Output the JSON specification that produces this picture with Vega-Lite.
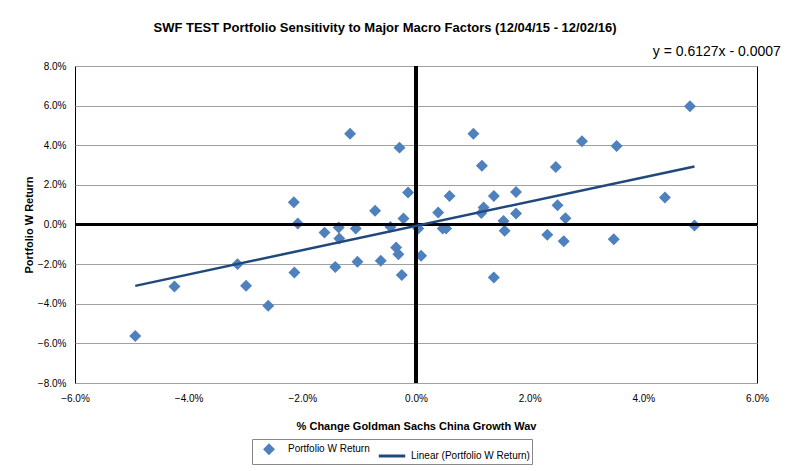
{
  "$schema": "https://vega.github.io/schema/vega-lite/v6.json",
  "width": 682,
  "height": 317,
  "autosize": {"type": "none"},
  "padding": {"left": 75, "top": 66, "right": 36, "bottom": 88},
  "background": "white",
  "config": {
    "font": "Liberation Sans",
    "view": {"stroke": "#000000", "strokeWidth": 1},
    "axis": {"labelFont": "Liberation Sans", "titleFont": "Liberation Sans"},
    "axisX": {
      "tickCount": 20,
      "format": ".1%", "grid": false, "domain": false, "ticks": false,
      "labelFlush": false, "labelOverlap": false,
      "labelFontSize": 10, "labelColor": "#000000", "labelPadding": 10,
      "titleFontSize": 11, "titleFontWeight": "bold", "titleColor": "#000000", "titlePadding": 17
    },
    "axisY": {
      "tickCount": 20,
      "format": ".1%", "grid": true, "gridColor": "#A0A0A0", "gridWidth": 1, "gridOpacity": 1,
      "domain": false, "ticks": false,
      "labelFlush": false, "labelOverlap": false,
      "labelFontSize": 10, "labelColor": "#000000", "labelPadding": 9,
      "titleFontSize": 11, "titleFontWeight": "bold", "titleColor": "#000000", "titlePadding": 3
    }
  },
  "title": {
    "text": "SWF TEST Portfolio Sensitivity to Major Macro Factors (12/04/15 - 12/02/16)",
    "font": "Liberation Sans",
    "fontSize": 13,
    "fontWeight": "bold",
    "color": "#000000",
    "anchor": "middle",
    "dx": -31,
    "offset": 10
  },
  "data": {
    "values": [
      {"x": -0.0494, "y": -0.0563, "series": "Portfolio W Return"},
      {"x": -0.0425, "y": -0.0313, "series": "Portfolio W Return"},
      {"x": -0.0314, "y": -0.0200, "series": "Portfolio W Return"},
      {"x": -0.0299, "y": -0.0309, "series": "Portfolio W Return"},
      {"x": -0.0260, "y": -0.0410, "series": "Portfolio W Return"},
      {"x": -0.0215, "y": 0.0112, "series": "Portfolio W Return"},
      {"x": -0.0208, "y": 0.0005, "series": "Portfolio W Return"},
      {"x": -0.0214, "y": -0.0242, "series": "Portfolio W Return"},
      {"x": -0.0161, "y": -0.0041, "series": "Portfolio W Return"},
      {"x": -0.0136, "y": -0.0015, "series": "Portfolio W Return"},
      {"x": -0.0135, "y": -0.0071, "series": "Portfolio W Return"},
      {"x": -0.0142, "y": -0.0214, "series": "Portfolio W Return"},
      {"x": -0.0116, "y": 0.0458, "series": "Portfolio W Return"},
      {"x": -0.0106, "y": -0.0020, "series": "Portfolio W Return"},
      {"x": -0.0103, "y": -0.0188, "series": "Portfolio W Return"},
      {"x": -0.0072, "y": 0.0069, "series": "Portfolio W Return"},
      {"x": -0.0062, "y": -0.0183, "series": "Portfolio W Return"},
      {"x": -0.0045, "y": -0.0012, "series": "Portfolio W Return"},
      {"x": -0.0035, "y": -0.0116, "series": "Portfolio W Return"},
      {"x": -0.0031, "y": -0.0150, "series": "Portfolio W Return"},
      {"x": -0.0029, "y": 0.0388, "series": "Portfolio W Return"},
      {"x": -0.0025, "y": -0.0255, "series": "Portfolio W Return"},
      {"x": -0.0022, "y": 0.0030, "series": "Portfolio W Return"},
      {"x": -0.0014, "y": 0.0161, "series": "Portfolio W Return"},
      {"x": 0.0004, "y": -0.0020, "series": "Portfolio W Return"},
      {"x": 0.0009, "y": -0.0158, "series": "Portfolio W Return"},
      {"x": 0.0039, "y": 0.0060, "series": "Portfolio W Return"},
      {"x": 0.0047, "y": -0.0020, "series": "Portfolio W Return"},
      {"x": 0.0053, "y": -0.0020, "series": "Portfolio W Return"},
      {"x": 0.0059, "y": 0.0144, "series": "Portfolio W Return"},
      {"x": 0.0101, "y": 0.0458, "series": "Portfolio W Return"},
      {"x": 0.0116, "y": 0.0297, "series": "Portfolio W Return"},
      {"x": 0.0119, "y": 0.0086, "series": "Portfolio W Return"},
      {"x": 0.0115, "y": 0.0058, "series": "Portfolio W Return"},
      {"x": 0.0137, "y": 0.0144, "series": "Portfolio W Return"},
      {"x": 0.0137, "y": -0.0267, "series": "Portfolio W Return"},
      {"x": 0.0154, "y": 0.0018, "series": "Portfolio W Return"},
      {"x": 0.0156, "y": -0.0032, "series": "Portfolio W Return"},
      {"x": 0.0176, "y": 0.0164, "series": "Portfolio W Return"},
      {"x": 0.0176, "y": 0.0055, "series": "Portfolio W Return"},
      {"x": 0.0231, "y": -0.0052, "series": "Portfolio W Return"},
      {"x": 0.0246, "y": 0.0290, "series": "Portfolio W Return"},
      {"x": 0.0249, "y": 0.0097, "series": "Portfolio W Return"},
      {"x": 0.0263, "y": 0.0032, "series": "Portfolio W Return"},
      {"x": 0.0260, "y": -0.0084, "series": "Portfolio W Return"},
      {"x": 0.0292, "y": 0.0420, "series": "Portfolio W Return"},
      {"x": 0.0348, "y": -0.0074, "series": "Portfolio W Return"},
      {"x": 0.0353, "y": 0.0396, "series": "Portfolio W Return"},
      {"x": 0.0438, "y": 0.0136, "series": "Portfolio W Return"},
      {"x": 0.0482, "y": 0.0597, "series": "Portfolio W Return"},
      {"x": 0.0490, "y": -0.0005, "series": "Portfolio W Return"}
    ]
  },
  "layer": [
    {
      "mark": {"type": "point", "shape": "diamond", "filled": true, "strokeWidth": 3, "opacity": 1},
      "encoding": {
        "x": {
          "field": "x", "type": "quantitative",
          "scale": {"domain": [-0.06, 0.06], "nice": false, "zero": false},
          "axis": {"title": "% Change Goldman Sachs China Growth Wav", "values": [-0.06, -0.04, -0.02, 0, 0.02, 0.04, 0.06]}
        },
        "y": {
          "field": "y", "type": "quantitative",
          "scale": {"domain": [-0.08, 0.08], "nice": false, "zero": false},
          "axis": {"title": "Portfolio W Return", "values": [-0.08, -0.06, -0.04, -0.02, 0, 0.02, 0.04, 0.06, 0.08]}
        },
        "color": {
          "field": "series", "type": "nominal",
          "scale": {"domain": ["Portfolio W Return", "Linear (Portfolio W Return)"], "range": ["#4F81BD", "#1F497D"]},
          "legend": {
            "title": null, "orient": "none", "legendX": 177, "legendY": 373,
            "direction": "horizontal", "columns": 2, "strokeColor": "#888888", "padding": 2,
            "labelFontSize": 10, "labelColor": "#000000", "columnPadding": 2, "symbolStrokeWidth": 3
          }
        },
        "stroke": {
          "field": "series", "type": "nominal",
          "scale": {"domain": ["Portfolio W Return", "Linear (Portfolio W Return)"], "range": ["#4F81BD", "#1F497D"]},
          "legend": {
            "title": null, "orient": "none", "legendX": 177, "legendY": 373,
            "direction": "horizontal", "columns": 2, "strokeColor": "#888888", "padding": 2,
            "labelFontSize": 10, "labelColor": "#000000", "columnPadding": 2, "symbolStrokeWidth": 3
          }
        },
        "shape": {
          "field": "series", "type": "nominal",
          "scale": {"domain": ["Portfolio W Return", "Linear (Portfolio W Return)"], "range": ["diamond", "stroke"]},
          "legend": {
            "title": null, "orient": "none", "legendX": 177, "legendY": 373,
            "direction": "horizontal", "columns": 2, "strokeColor": "#888888", "padding": 2,
            "labelFontSize": 10, "labelColor": "#000000", "columnPadding": 2, "symbolStrokeWidth": 3
          }
        },
        "size": {
          "field": "series", "type": "nominal",
          "scale": {"domain": ["Portfolio W Return", "Linear (Portfolio W Return)"], "range": [60, 700]},
          "legend": {
            "title": null, "orient": "none", "legendX": 177, "legendY": 373,
            "direction": "horizontal", "columns": 2, "strokeColor": "#888888", "padding": 2,
            "labelFontSize": 10, "labelColor": "#000000", "columnPadding": 2, "symbolStrokeWidth": 3
          }
        }
      }
    },
    {
      "mark": {"type": "rule", "color": "#000000", "strokeWidth": 3},
      "encoding": {"y": {"datum": 0, "type": "quantitative", "axis": {"title": "Portfolio W Return", "values": [-0.08, -0.06, -0.04, -0.02, 0, 0.02, 0.04, 0.06, 0.08]}}}
    },
    {
      "mark": {"type": "rule", "color": "#000000", "strokeWidth": 3},
      "encoding": {"x": {"datum": 0, "type": "quantitative", "axis": {"title": "% Change Goldman Sachs China Growth Wav", "values": [-0.06, -0.04, -0.02, 0, 0.02, 0.04, 0.06]}}}
    },
    {
      "data": {"values": [
        {"x": -0.0494, "y": -0.03097, "series": "Linear (Portfolio W Return)"},
        {"x": 0.0490, "y": 0.02932, "series": "Linear (Portfolio W Return)"}
      ]},
      "mark": {"type": "line", "strokeWidth": 2.5, "color": "#1F497D"},
      "encoding": {
        "x": {"field": "x", "type": "quantitative", "axis": {"title": "% Change Goldman Sachs China Growth Wav", "values": [-0.06, -0.04, -0.02, 0, 0.02, 0.04, 0.06]}},
        "y": {"field": "y", "type": "quantitative", "axis": {"title": "Portfolio W Return", "values": [-0.08, -0.06, -0.04, -0.02, 0, 0.02, 0.04, 0.06, 0.08]}}
      }
    },
    {
      "data": {"values": [{"label": "y = 0.6127x - 0.0007", "x": 0.0642, "y": 0.0848}]},
      "mark": {"type": "text", "align": "right", "baseline": "alphabetic", "fontSize": 14, "color": "#000000"},
      "encoding": {
        "x": {"field": "x", "type": "quantitative", "axis": {"title": "% Change Goldman Sachs China Growth Wav", "values": [-0.06, -0.04, -0.02, 0, 0.02, 0.04, 0.06]}},
        "y": {"field": "y", "type": "quantitative", "axis": {"title": "Portfolio W Return", "values": [-0.08, -0.06, -0.04, -0.02, 0, 0.02, 0.04, 0.06, 0.08]}},
        "text": {"field": "label"}
      }
    }
  ]
}
